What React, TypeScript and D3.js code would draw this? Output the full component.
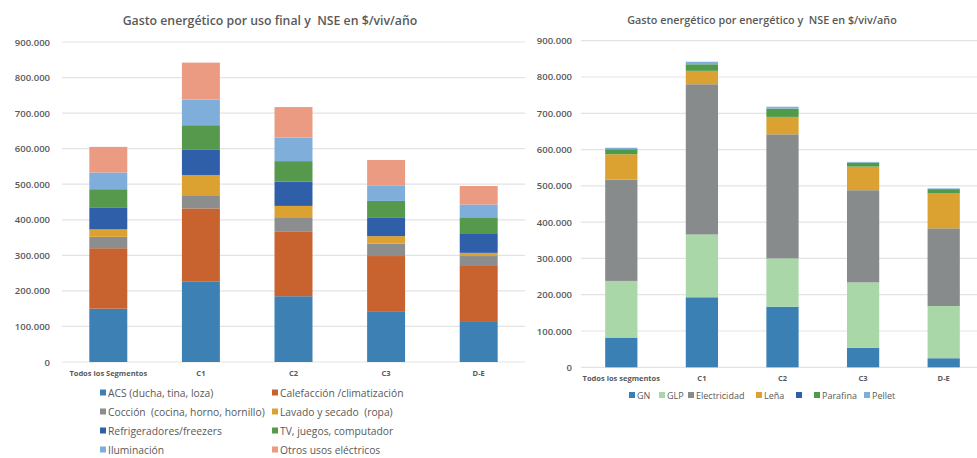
import React from "react";
import * as d3 from "d3";

// categories (NSE segments)
const leftCategories = ["Todos los Segmentos", "C1", "C2", "C3", "D-E"];
const rightCategories = ["Todos los segmentos", "C1", "C2", "C3", "D-E"];

// left chart: gasto por uso final ($/viv/año)
const usoSeries = [
  "ACS (ducha, tina, loza)",
  "Calefacción /climatización",
  "Cocción  (cocina, horno, hornillo)",
  "Lavado y secado  (ropa)",
  "Refrigeradores/freezers",
  "TV, juegos, computador",
  "Iluminación",
  "Otros usos eléctricos",
];
const acs = [150000, 227000, 185000, 141000, 115000];
const calefaccion = [170000, 205000, 181000, 157000, 155000];
const coccion = [32000, 37000, 39000, 35000, 28000];
const lavado = [21000, 57000, 34000, 21000, 9000];
const refrigeradores = [62000, 72000, 68000, 53000, 53000];
const tvJuegos = [51000, 68000, 58000, 46000, 47000];
const iluminacion = [47000, 72000, 66000, 44000, 36000];
const otrosUsos = [72000, 104000, 86000, 71000, 52000];
const usoColors = ["#3d80b4", "#c8622f", "#8b8d8f", "#dba232", "#2f5fa9", "#56994c", "#80aedb", "#eb9b82"];

// right chart: gasto por energético ($/viv/año)
const energSeries = ["GN", "GLP", "Electricidad", "Leña", "", "Parafina", "Pellet"];
const gn = [82000, 193000, 167000, 54000, 25000];
const glp = [156000, 173000, 133000, 180000, 144000];
const electricidad = [279000, 414000, 342000, 254000, 214000];
const lena = [70000, 37000, 48000, 65000, 96000];
const otroAzul = [0, 0, 0, 0, 0];
const parafina = [14000, 18000, 23000, 11000, 12000];
const pellet = [4000, 7000, 5000, 2000, 2000];
const energColors = ["#3b80b5", "#a9d7a7", "#888b8c", "#dba232", "#2f5fa9", "#4f9b49", "#80aedb"];

const yTicks = [0, 100000, 200000, 300000, 400000, 500000, 600000, 700000, 800000, 900000];

const fmt = (v: number) => (v === 0 ? "0" : d3.format(",")(v).replace(/,/g, "."));
const FONT = "'Open Sans', 'Liberation Sans', sans-serif";
const TXT = "#595959";
const PRE = { whiteSpace: "pre" as const };

function stackRows(categories: string[], series: number[][]) {
  const keys = series.map((_, i) => "s" + i);
  const rows = categories.map((c, ci) => {
    const r: any = { cat: c };
    series.forEach((s, si) => (r["s" + si] = s[ci]));
    return r;
  });
  return d3.stack().keys(keys)(rows);
}

interface ChartProps {
  title: string;
  titleX: number;
  categories: string[];
  series: number[][];
  colors: string[];
  x0: number;
  x1: number;
  yTop: number;
  yBottom: number;
  tickX: number;
  pad: number;
  titleSize: number;
}

const StackChart: React.FC<ChartProps> = (p) => {
  const x = d3.scaleBand().domain(p.categories).range([p.x0, p.x1]).paddingInner(p.pad).paddingOuter(p.pad / 2);
  const y = d3.scaleLinear().domain([0, 900000]).range([p.yBottom, p.yTop]);
  const stacked = stackRows(p.categories, p.series);
  return (
    <g>
      <text x={p.titleX} y={p.yTop - 17} textAnchor="middle" fontSize={p.titleSize} fontWeight={600} fill={TXT} fontFamily={FONT} style={PRE}>
        {p.title}
      </text>
      {yTicks.map((t) => (
        <g key={t}>
          <line x1={p.x0} x2={p.x1} y1={y(t)} y2={y(t)} stroke="#e3e3e3" strokeWidth={1.2} />
          <text x={p.tickX} y={y(t) + 3.5} textAnchor="end" fontSize={9.5} fontWeight={600} fill={TXT} fontFamily={FONT}>
            {fmt(t)}
          </text>
        </g>
      ))}
      {stacked.map((layer, li) => (
        <g key={li} fill={p.colors[li]}>
          {layer.map((d, ci) =>
            d[1] - d[0] > 0 ? (
              <rect
                key={ci}
                x={x(p.categories[ci])}
                width={x.bandwidth()}
                y={y(d[1])}
                height={y(d[0]) - y(d[1])}
              />
            ) : null
          )}
        </g>
      ))}
      {p.categories.map((c) => (
        <text
          key={c}
          x={(x(c) as number) + x.bandwidth() / 2}
          y={p.yBottom + 14}
          textAnchor="middle"
          fontSize={7.5}
          fontWeight={700}
          fill={TXT}
          fontFamily={FONT}
        >
          {c}
        </text>
      ))}
    </g>
  );
};

export default function App() {
  const leftSeries = [acs, calefaccion, coccion, lavado, refrigeradores, tvJuegos, iluminacion, otrosUsos];
  const rightSeries = [gn, glp, electricidad, lena, otroAzul, parafina, pellet];

  // legend layout
  const leftLegendCols = [100, 272];
  const leftLegendRows = [393, 412, 431, 450];
  const rightLegendX = [629, 659, 688, 756, 796, 814, 864];

  return (
    <svg
      width={977}
      height={458}
      style={{ position: "absolute", left: 0, top: 0, background: "#fff" }}
    >
      <StackChart
        title="Gasto energético por uso final y  NSE en $/viv/año"
        titleX={270}
        categories={leftCategories}
        series={leftSeries}
        colors={usoColors}
        x0={62}
        x1={525}
        yTop={42}
        yBottom={362}
        tickX={50}
        pad={0.59}
        titleSize={12.3}
      />
      <StackChart
        title="Gasto energético por energético y  NSE en $/viv/año"
        titleX={762}
        categories={rightCategories}
        series={rightSeries}
        colors={energColors}
        x0={581}
        x1={984}
        yTop={40.7}
        yBottom={367.3}
        tickX={572}
        pad={0.6}
        titleSize={10.8}
      />
      {usoSeries.map((s, i) => {
        const cx = leftLegendCols[i % 2];
        const cy = leftLegendRows[Math.floor(i / 2)];
        return (
          <g key={s}>
            <rect x={cx} y={cy - 3.5} width={6} height={6} fill={usoColors[i]} />
            <text x={cx + 8} y={cy + 3.5} fontSize={10.3} fill={TXT} fontFamily={FONT} style={PRE}>
              {s}
            </text>
          </g>
        );
      })}
      {energSeries.map((s, i) => (
        <g key={i}>
          <rect x={rightLegendX[i]} y={392} width={6} height={6} fill={energColors[i]} />
          <text x={rightLegendX[i] + 8} y={398.5} fontSize={9} fill={TXT} fontFamily={FONT}>
            {s}
          </text>
        </g>
      ))}
    </svg>
  );
}
